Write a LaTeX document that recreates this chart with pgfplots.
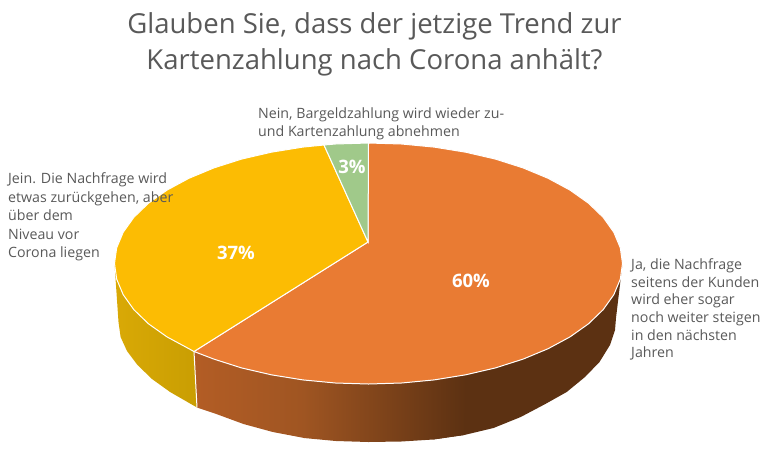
\documentclass[border=0pt]{standalone}
\usepackage{pgfplots}
\pgfplotsset{compat=1.18}
\usepackage{fontspec}
\setmainfont{Open Sans}
\definecolor{ja}{HTML}{E97B33}
\definecolor{jein}{HTML}{FCBC03}
\definecolor{nein}{HTML}{A0C98A}
\definecolor{jadark}{HTML}{5C3112}
\definecolor{jamid}{HTML}{9F5522}
\definecolor{jalight}{HTML}{B35D25}
\definecolor{jeinl}{HTML}{D9A906}
\definecolor{jeinr}{HTML}{C99E02}
\definecolor{txt}{HTML}{595959}
\begin{document}
\begin{tikzpicture}
\useasboundingbox (0,0) rectangle (768pt,464pt);
\begin{axis}[width=768pt,height=464pt,scale only axis,hide axis,
  xmin=0,xmax=768,ymin=0,ymax=464,y dir=reverse,clip=false]

% side wall, flat dark part of the 60% slice
\addplot[draw=none,fill=jadark] coordinates
 {(622.5,263.5) (620.3,279.2) (613.8,294.7) (603.2,309.6) (588.5,323.8) (570,336.9)
  (548.1,348.7) (523.1,359.1) (495.5,367.9) (465.7,374.8) (434.2,379.9)
  (433.1,439.5) (464.2,435) (493.5,428) (520.7,417) (545.3,404) (566.7,392) (585,377)
  (599.5,362) (610,345) (615,330) (616,318)} -- cycle;
% side wall, shaded parts of the 60% slice
\addplot[draw=none,left color=jamid,right color=jadark] coordinates
 {(465.7,374.8) (434.2,379.9) (401.6,383) (368.5,384) (335.4,383) (302.8,379.9)
  (303.8,438) (335.9,441) (368.5,442) (401.1,441.5) (433.1,439.5) (464.2,435)} -- cycle;
\addplot[draw=none,left color=jalight,right color=jamid] coordinates
 {(303.3,379.9) (271.3,374.8) (241.5,367.9) (213.9,359.1) (194,351.5)
  (197,407.5) (216.3,414) (243.5,424) (272.8,432) (304.3,438)} -- cycle;
% side wall of the 37% slice
\addplot[draw=none,left color=jeinl,right color=jeinr] coordinates
 {(114.5,263.5) (116.7,279.2) (123.2,294.7) (133.8,309.6) (148.5,323.8) (167,336.9)
  (188.9,348.7) (194,351.5) (197,407.5) (170.1,392) (152,379) (137.5,365)
  (127,351) (120.6,337) (118.5,322)} -- cycle;
\addplot[white,line width=1pt] coordinates {(194,351.5) (197,407.5)};

% top faces
\addplot[draw=white,line width=1pt,fill=ja] coordinates
 {(368,242) (368.5,143) (401.6,144) (434.2,147.1) (465.7,152.2) (495.5,159.1)
  (523.1,167.9) (548.1,178.3) (570,190.1) (588.5,203.2) (603.2,217.4) (613.8,232.3)
  (620.3,247.8) (622.5,263.5) (620.3,279.2) (613.8,294.7) (603.2,309.6) (588.5,323.8)
  (570,336.9) (548.1,348.7) (523.1,359.1) (495.5,367.9) (465.7,374.8) (434.2,379.9)
  (401.6,383) (368.5,384) (335.4,383) (302.8,379.9) (271.3,374.8) (241.5,367.9)
  (213.9,359.1) (194,351.5)} -- cycle;
\addplot[draw=white,line width=1pt,fill=jein] coordinates
 {(368,242) (194,351.5) (188.9,348.7) (167,336.9) (148.5,323.8) (133.8,309.6)
  (123.2,294.7) (116.7,279.2) (114.5,263.5) (116.7,247.8) (123.2,232.3) (133.8,217.4)
  (148.5,203.2) (167,190.1) (188.9,178.3) (213.9,167.9) (241.5,159.1) (271.3,152.2)
  (302.8,147.1) (324,145)} -- cycle;
\addplot[draw=white,line width=1pt,fill=nein] coordinates
 {(368,242) (324,145) (335.4,144) (368.5,143)} -- cycle;

% percent labels
\node[white,font=\fontsize{18.5}{22}\selectfont\bfseries] at (axis cs:471,281) {60\%};
\node[white,font=\fontsize{18.5}{22}\selectfont\bfseries] at (axis cs:236,253) {37\%};
\node[white,font=\fontsize{18.5}{22}\selectfont\bfseries] at (axis cs:352,167) {3\%};

% category labels
\node[txt,anchor=west,inner sep=0pt,align=left,font=\fontsize{14.2}{17.7}\selectfont] at (axis cs:631,309.5)
 {Ja, die Nachfrage\\seitens der Kunden\\wird eher sogar\\noch weiter steigen\\in den nächsten\\Jahren};
\node[txt,anchor=west,inner sep=0pt,align=left,font=\fontsize{14.2}{18.5}\selectfont] at (axis cs:8,217)
 {Jein. Die Nachfrage wird\\etwas zurückgehen, aber\\über dem\\Niveau vor\\Corona liegen};
\node[txt,anchor=west,inner sep=0pt,align=left,font=\fontsize{14.2}{17.7}\selectfont] at (axis cs:258,123.5)
 {Nein, Bargeldzahlung wird wieder zu-\\und Kartenzahlung abnehmen};

% title
\node[txt,align=center,font=\fontsize{27.5}{36}\selectfont] at (axis cs:374.5,44)
 {Glauben Sie, dass der jetzige Trend zur\\Kartenzahlung nach Corona anhält?};
\end{axis}
\end{tikzpicture}
\end{document}
